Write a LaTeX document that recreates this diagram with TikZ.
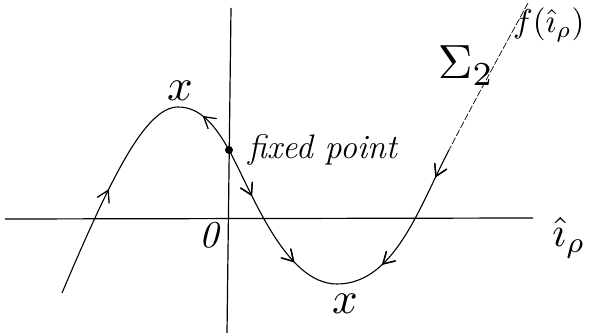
\documentclass[tikz,border=0pt]{standalone}
\usepackage{fontspec}
\usepackage{graphicx}
\usetikzlibrary{decorations.markings}
\begin{document}
\begin{tikzpicture}[x=1pt,y=-1pt,
  curve/.style={line width=1.1pt},
  faint/.style={line width=0.7pt,dash pattern=on 7pt off 2pt},
  axisline/.style={line width=1.2pt},
  midarrow/.style={postaction={decorate},decoration={markings,
    mark=at position #1 with {\draw[line width=1.3pt,solid,line cap=round,line join=round] (-11pt,6.5pt) -- (0pt,0pt) -- (-11pt,-6.5pt);}}},
  lbl/.style={inner sep=0pt,font=\fontsize{10}{12}\selectfont}]
\useasboundingbox (0,0) rectangle (599,336);
% axes
\coordinate (xl) at (5,219);
\coordinate (xr) at (533,218);
\coordinate (yt) at (231,8);
\coordinate (yb) at (227,333);
\draw[axisline] (xl) -- (xr);
\draw[axisline] (yt) -- (yb);
% curve points
\coordinate (L) at (62,293);
\coordinate (P) at (178,107);
\coordinate (F) at (229,150);
\coordinate (T) at (337,284);
\coordinate (A) at (449,150);
\coordinate (E) at (528,3);
% curve pieces
\draw[curve,midarrow=0.5] (L) .. controls (110,180) and (145,107) .. (P);
\draw[curve,midarrow=0.6] (F) .. controls (215,125) and (200,107) .. (P);
\draw[curve,midarrow=0.28,midarrow=0.72] (F) .. controls (252,192) and (285,284) .. (T);
\draw[curve,midarrow=0.16,midarrow=0.72] (A) .. controls (420,205) and (395,284) .. (T);
\draw[faint] (E) .. controls (505,45) and (475,100) .. (A);
% fixed point
\node[circle,fill,inner sep=0pt,minimum size=8pt] (fp) at (F) {};
% labels
\node[lbl] (xtop) at (180,91) {\scalebox{4.5}{$x$}};
\node[lbl] (xbot) at (345,304) {\scalebox{4.5}{$x$}};
\node[lbl] (zero) at (209,235) {\scalebox{3.8}{$\mathit{0}$}};
\node[lbl,font=\fontsize{34}{34}\selectfont\itshape,anchor=west] (fptext) at (248,150) {fixed point};
\node[lbl] (sig) at (466,66) {\scalebox{4.8}{$\Sigma_2$}};
\node[lbl,anchor=west] (fl) at (513,25) {\scalebox{3.3}{$f(\hat{\imath}_\rho)$}};
\node[lbl] (il) at (569,238) {\scalebox{4.2}{$\hat{\imath}_\rho$}};
\end{tikzpicture}
\end{document}
